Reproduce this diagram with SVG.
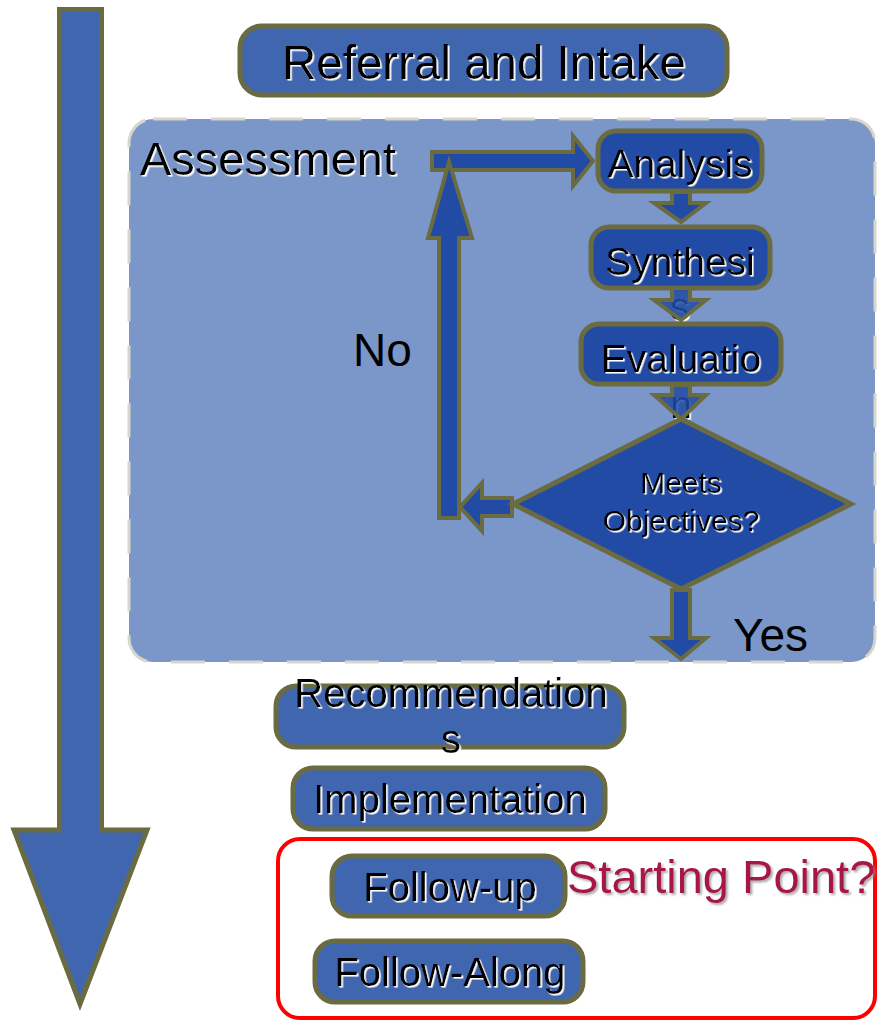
<svg xmlns="http://www.w3.org/2000/svg" width="878" height="1021" viewBox="0 0 878 1021">
<defs>
<filter id="ws" x="-5%" y="-20%" width="110%" height="140%"><feDropShadow dx="1.6" dy="1.6" stdDeviation="0" flood-color="#ffffff" flood-opacity="1"/></filter>
<filter id="gs" x="-5%" y="-20%" width="110%" height="140%"><feDropShadow dx="2" dy="2" stdDeviation="0.8" flood-color="#888888" flood-opacity="0.7"/></filter>
</defs>
<style>
text{font-family:"Liberation Sans",Arial,sans-serif;fill:#000}
.outer{fill:#4166b0;stroke:#6b6b42;stroke-width:5}
.inner{fill:#214ba5;stroke:#6b6b42;stroke-width:5}
.arr{fill:#214ba5;stroke:#6b6b42;stroke-width:4;stroke-linejoin:miter}
.t40{font-size:40px;text-anchor:middle;filter:url(#ws)}
.t39{font-size:39px;text-anchor:middle;filter:url(#ws)}
.lbl{font-size:46px}
</style>
<rect width="878" height="1021" fill="#ffffff"/>

<g id="timeline">
<polygon points="59.5,9.5 101.5,9.5 101.5,830 147,830 80,1004 14,830 59.5,830" fill="#4166b0" stroke="#6b6b42" stroke-width="5"/>
</g>

<g id="referral">
<rect class="outer" x="240" y="26" width="487" height="69" rx="22"/>
<text x="484" y="79" font-size="47.5" text-anchor="middle" filter="url(#ws)">Referral and Intake</text>
</g>

<g id="assessment">
<rect x="129" y="119" width="746" height="543" rx="24" fill="#7b97c9" stroke="#d6d6cc" stroke-width="3" stroke-dasharray="34 24"/>
<text x="140" y="175" font-size="47" filter="url(#ws)">Assessment</text>
</g>

<g id="analysis">
<rect class="inner" x="598" y="131" width="164" height="60" rx="18"/>
<text class="t39" x="680" y="177">Analysis</text>
</g>

<g id="synthesis">
<rect class="inner" x="591" y="227" width="179" height="61" rx="18"/>
<text class="t39" x="680" y="275">Synthesi<tspan x="680" y="320">s</tspan></text>
</g>

<g id="evaluation">
<rect class="inner" x="581" y="324" width="200" height="60" rx="18"/>
<text class="t39" x="681" y="372">Evaluatio<tspan x="681" y="418">n</tspan></text>
</g>

<g id="connectors">
<polygon class="arr" points="432,152 573,152 573,136 593,161 573,186 573,170 432,170"/>
<polygon class="arr" points="439,518 439,238 428,238 449,162 472,238 459,238 459,518"/>
<polygon class="arr" points="672,192 690,192 690,203 706,203 681,222 654,203 672,203"/>
<polygon class="arr" points="672,288 690,288 690,300 706,300 681,320 654,300 672,300" fill-opacity="0.85"/>
<polygon class="arr" points="672,385 690,385 690,395 706,395 681,419 654,395 672,395" fill-opacity="0.85"/>
<polygon class="arr" points="512,498 482,498 482,483 460,507 482,531 482,516 512,516"/>
<polygon class="arr" points="672,590 690,590 690,638 706,638 681,659 654,638 672,638"/>
</g>

<g id="decision">
<polygon points="681,419 851,504 681,589 513,504" fill="#214ba5" stroke="#6b6b42" stroke-width="5" stroke-linejoin="miter"/>
<text x="681" y="493" font-size="30" text-anchor="middle" filter="url(#ws)">Meets<tspan x="681" y="531">Objectives?</tspan></text>
</g>

<g id="labels">
<text class="lbl" x="353" y="366">No</text>
<text class="lbl" x="733" y="651">Yes</text>
</g>

<g id="recommendations">
<rect class="outer" x="276" y="686" width="348" height="61" rx="20"/>
<text class="t40" x="451" y="707">Recommendation<tspan x="451" y="753">s</tspan></text>
</g>

<g id="implementation">
<rect class="outer" x="293" y="768" width="312" height="61" rx="20"/>
<text class="t40" x="450" y="813">Implementation</text>
</g>

<g id="starting-point">
<rect x="278" y="839" width="597" height="179" rx="22" fill="none" stroke="#ff0000" stroke-width="4"/>
<text x="567" y="893" font-size="47" fill="#a8174a" style="fill:#a8174a" filter="url(#gs)">Starting Point?</text>
</g>

<g id="follow-up">
<rect class="outer" x="332" y="856" width="233" height="60" rx="20"/>
<text class="t40" x="450" y="901">Follow-up</text>
</g>

<g id="follow-along">
<rect class="outer" x="315" y="941" width="268" height="61" rx="20"/>
<text class="t40" x="450" y="986">Follow-Along</text>
</g>
</svg>
